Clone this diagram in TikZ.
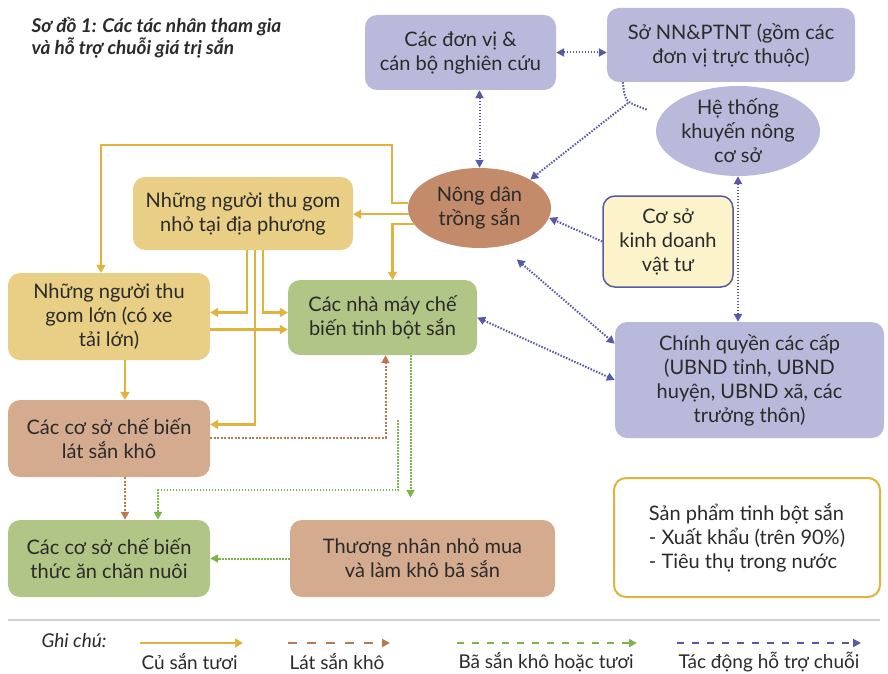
\documentclass[tikz,border=0pt]{standalone}
\usepackage{fontspec}
\setmainfont{Lato}
\usetikzlibrary{arrows.meta,shapes.geometric}

\definecolor{ink}{HTML}{2A2A2A}
\definecolor{lilac}{HTML}{B9BADB}
\definecolor{clay}{HTML}{C48B6B}
\definecolor{tan}{HTML}{D4AB8F}
\definecolor{straw}{HTML}{E9CF85}
\definecolor{sage}{HTML}{B1C686}
\definecolor{cream}{HTML}{FCF3CB}
\definecolor{goldline}{HTML}{DFB33C}
\definecolor{brownline}{HTML}{B97850}
\definecolor{greenline}{HTML}{7DB54C}
\definecolor{blueline}{HTML}{5659A8}

\begin{document}
\begin{tikzpicture}[x=1pt, y=-1pt, font=\fontsize{20}{24}\selectfont, text=ink,
    box/.style={rectangle, rounded corners=12pt, align=center, inner sep=0pt},
    oval/.style={ellipse, align=center, inner sep=-10pt},
    fresh/.style={draw=goldline, line width=2.2pt, -{Triangle[length=8pt,width=9pt]}},
    chip/.style={draw=brownline, line width=2pt, dash pattern=on 2pt off 1.5pt, -{Triangle[length=8pt,width=8pt]}},
    pulp/.style={draw=greenline, line width=2pt, dash pattern=on 1.5pt off 1.5pt, -{Triangle[length=8pt,width=8pt]}},
    help/.style={draw=blueline, line width=2pt, dash pattern=on 1.5pt off 1.5pt, >={Triangle[length=8pt,width=8pt]}, ->},
    key/.style={anchor=west, font=\fontsize{19}{22}\selectfont}]
    \useasboundingbox (0,0) rectangle (888,674);

    \node[anchor=north west, align=left, font=\fontsize{19}{22}\selectfont\bfseries\itshape] (title) at (28,14)
        {Sơ đồ 1: Các tác nhân tham gia\\và hỗ trợ chuỗi giá trị sắn};

    \node[box, fill=lilac, minimum width=191pt, minimum height=75pt] (research) at (460.5,52.5) {Các đơn vị \&\\cán bộ nghiên cứu};
    \node[box, fill=lilac, minimum width=248pt, minimum height=74pt] (dept) at (731,45) {Sở NN\&PTNT (gồm các\\đơn vị trực thuộc)};
    \node[oval, fill=lilac, minimum width=164pt, minimum height=90pt] (ext) at (738,131) {Hệ thống\\khuyến nông\\cơ sở};
    \node[oval, fill=clay, minimum width=143pt, minimum height=80pt] (farmer) at (479.5,208) {Nông dân\\trồng sắn};
    \node[box, fill=cream, draw=blueline, line width=1.5pt, minimum width=130pt, minimum height=91pt] (input) at (668,241.5) {Cơ sở\\kinh doanh\\vật tư};
    \node[box, fill=straw, minimum width=220pt, minimum height=73pt] (small) at (243,213.5) {Những người thu gom\\nhỏ tại địa phương};
    \node[box, fill=straw, minimum width=202pt, minimum height=87pt] (big) at (109,316.5) {Những người thu\\gom lớn (có xe\\tải lớn)};
    \node[box, fill=sage, minimum width=189pt, minimum height=75pt] (mill) at (382.5,317.5) {Các nhà máy chế\\biến tinh bột sắn};
    \node[box, fill=lilac, minimum width=269pt, minimum height=116pt] (gov) at (749.5,380) {Chính quyền các cấp\\(UBND tỉnh, UBND\\huyện, UBND xã, các\\trưởng thôn)};
    \node[box, fill=tan, minimum width=202pt, minimum height=77pt] (chips) at (109,438.5) {Các cơ sở chế biến\\lát sắn khô};
    \node[box, fill=sage, minimum width=202pt, minimum height=77pt] (feed) at (109,558.5) {Các cơ sở chế biến\\thức ăn chăn nuôi};
    \node[box, fill=tan, minimum width=265pt, minimum height=77pt] (trader) at (422.5,558.5) {Thương nhân nhỏ mua\\và làm khô bã sắn};
    \node[box, fill=white, draw=goldline, line width=2pt, align=left, minimum width=266pt, minimum height=119pt] (product) at (747,537.5)
        {Sản phẩm tinh bột sắn\\- Xuất khẩu (trên 90\%)\\- Tiêu thụ trong nước};

    \draw[fresh] (farmer.176) -| (392,145) -| ([xshift=-8pt]big.north);
    \draw[fresh] (farmer.185) -- (farmer.185 -| small.east);
    \draw[fresh] (farmer.194) -| ([xshift=10pt]mill.north);
    \draw[fresh] ([xshift=4pt]small.south) |- ([yshift=4pt]big.east);
    \draw[fresh] ([xshift=20pt]small.south) |- ([yshift=5pt]mill.west);
    \draw[fresh] ([xshift=12pt]small.south) |- ([yshift=14pt]chips.east);
    \draw[fresh] ([yshift=-13pt]big.east) -- ([yshift=-13pt]big.east -| mill.west);
    \draw[fresh] ([xshift=16pt]big.south) -- ([xshift=16pt]chips.north);

    \draw[chip] ([yshift=1pt]chips.east) -| ([xshift=3pt]mill.south);
    \draw[chip] ([xshift=16pt]chips.south) -- ([xshift=16pt]feed.north);

    \coordinate (split) at (398,420);
    \draw[pulp, shorten >=22pt] ([xshift=28pt]mill.south) -- ([xshift=28pt]mill.south |- trader.north);
    \draw[pulp] (split) -- (398,490) -| ([xshift=49pt]feed.north);
    \draw[pulp] (trader.west) -- (feed.east);

    \coordinate (join) at (628,103);
    \coordinate (tail) at (648,110);
    \draw[help, -] ([xshift=16pt]dept.south west) .. controls (625,102) .. (tail);
    \draw[help] (join) -- (farmer.north east);
    \draw[help, <->] (farmer.north |- research.south) -- (farmer.north);
    \draw[help, <->] (research.east) -- (research.east -| dept.west);
    \draw[help] (input.west) -- (farmer.-8);
    \draw[help, <->] (ext.south) -- (ext.south |- gov.north);
    \draw[help, <->, shorten <=20pt] (farmer.-60) -- ([yshift=-22pt]gov.north west);
    \draw[help, <->] (mill.east) -- (gov.west);

    \draw[gray!35, line width=1.5pt] (8,620) -- (880,620);
    \node[key, font=\fontsize{19}{22}\selectfont\itshape] (note) at (38,641) {Ghi chú:};
    \node[key] (k1) at (138,662) {Củ sắn tươi};
    \node[key] (k2) at (286,662) {Lát sắn khô};
    \node[key] (k3) at (455,662) {Bã sắn khô hoặc tươi};
    \node[key] (k4) at (675,662) {Tác động hỗ trợ chuỗi};
    \draw[fresh] ([xshift=2pt,yshift=-2pt]k1.west |- note.west) -- ++(103,0);
    \draw[chip, dash pattern=on 9pt off 10pt] ([xshift=2pt,yshift=-2pt]k2.west |- note.west) -- ++(102,0);
    \draw[pulp, dash pattern=on 7pt off 8pt] ([xshift=2pt,yshift=-2pt]k3.west |- note.west) -- ++(180,0);
    \draw[help, dash pattern=on 7pt off 8pt] ([xshift=2pt,yshift=-2pt]k4.west |- note.west) -- ++(184,0);
\end{tikzpicture}
\end{document}
